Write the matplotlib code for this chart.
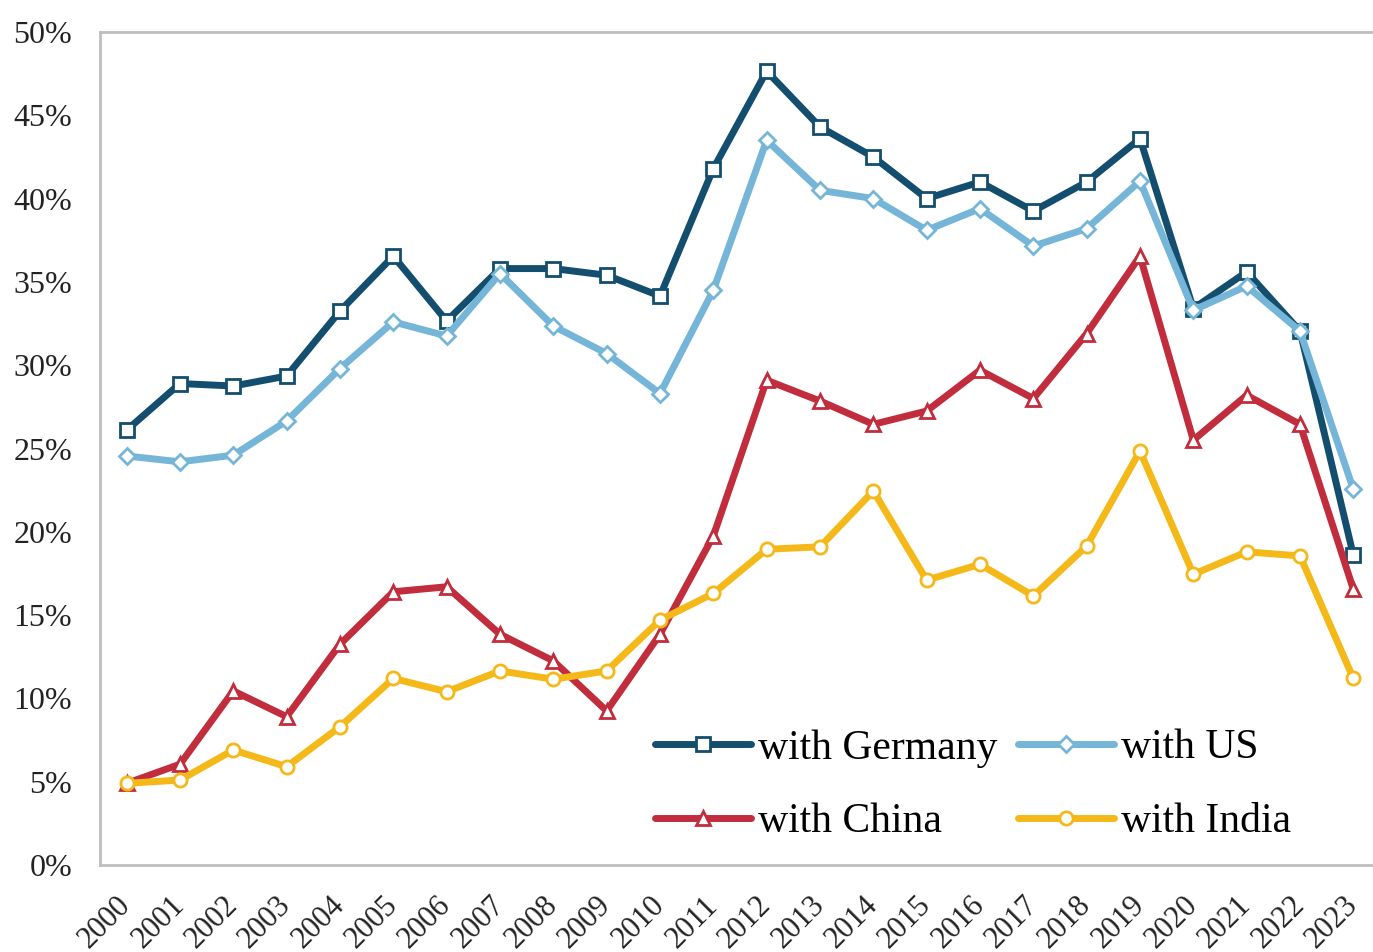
import matplotlib
matplotlib.use("Agg")
import matplotlib.pyplot as plt
from matplotlib.ticker import PercentFormatter

years = [str(y) for y in range(2000, 2024)]
germany = [26.1, 28.9, 28.75, 29.35, 33.25, 36.55, 32.65, 35.8, 35.8, 35.4, 34.15, 41.8,
           47.65, 44.3, 42.5, 40.0, 41.0, 39.25, 41.0, 43.6, 33.4, 35.6, 32.05, 18.6]
us = [24.55, 24.2, 24.6, 26.65, 29.8, 32.6, 31.75, 35.5, 32.35, 30.7, 28.3, 34.5,
      43.5, 40.5, 40.0, 38.1, 39.4, 37.15, 38.2, 41.05, 33.3, 34.75, 32.05, 22.55]
china = [4.9, 6.05, 10.45, 8.9, 13.25, 16.4, 16.7, 13.85, 12.25, 9.25, 13.85, 19.75,
         29.1, 27.85, 26.45, 27.25, 29.7, 28.0, 31.9, 36.55, 25.5, 28.2, 26.45, 16.55]
india = [4.9, 5.1, 6.9, 5.9, 8.3, 11.2, 10.4, 11.65, 11.15, 11.65, 14.7, 16.3,
         18.95, 19.1, 22.45, 17.1, 18.05, 16.15, 19.15, 24.85, 17.45, 18.8, 18.55, 11.2]

series = [
    ("with Germany", germany, "#134E6F", "s"),
    ("with US", us, "#74B5D8", "D"),
    ("with China", china, "#C12D3C", "^"),
    ("with India", india, "#F4B918", "o"),
]

plt.rcParams['font.family'] = ['Liberation Serif', 'DejaVu Serif']

fig = plt.figure(figsize=(13.73, 9.52), dpi=100)
ax = fig.add_axes([100/1373, 1-865/952, 1280/1373, 833/952])

x = list(range(len(years)))
handles = {}
for label, vals, color, mk in series:
    ms = 9.5 if mk != "D" else 8.5
    h, = ax.plot(x, vals, color=color, lw=5, marker=mk, markersize=ms,
                 markerfacecolor="white", markeredgecolor=color, markeredgewidth=2,
                 label=label, zorder=3, solid_capstyle="round")
    handles[label] = h

ax.set_xlim(-0.5, 23.5)
ax.set_ylim(0, 50)
ax.set_yticks(range(0, 51, 5))
ax.yaxis.set_major_formatter(PercentFormatter(decimals=0))
ax.set_xticks(x)
ax.set_xticklabels(years, rotation=45, ha="right", rotation_mode="anchor")
ax.tick_params(axis="y", length=0, labelsize=23, colors="#222222", pad=20)
ax.tick_params(axis="x", length=0, labelsize=22, colors="#222222", pad=26)
for lab in ax.get_xticklabels():
    lab.set_va("center")
for s in ["top", "left", "bottom"]:
    ax.spines[s].set_color("#BFBFBF")
    ax.spines[s].set_linewidth(2)
ax.spines["right"].set_visible(False)

order = ["with Germany", "with China", "with US", "with India"]
leg = ax.legend([handles[k] for k in order], order, ncol=2, loc="upper left",
                bbox_to_anchor=((655-100)/1280, (865-729)/833), frameon=False,
                fontsize=30, handlelength=2.3, handletextpad=0.17,
                columnspacing=0.5, labelspacing=0.85, borderpad=0,
                borderaxespad=0)

fig.savefig("out.png", dpi=100)
